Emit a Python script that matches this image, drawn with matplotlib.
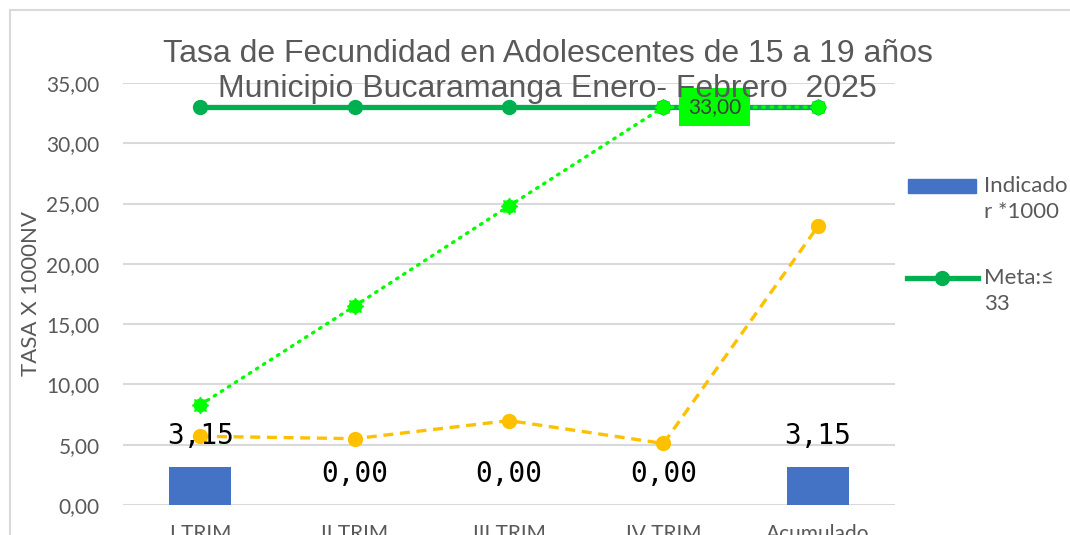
import matplotlib
matplotlib.use('Agg')
import matplotlib.pyplot as plt
from matplotlib.patches import Rectangle
from matplotlib.lines import Line2D

# ── Datos ─────────────────────────────────────────────────────────────────────
categorias = ['I TRIM', 'II TRIM', 'III TRIM', 'IV TRIM', 'Acumulado']
indicador = [3.15, 0.00, 0.00, 0.00, 3.15]
meta = [33, 33, 33, 33, 33]
meta_acum = [8.3, 16.5, 24.8, 33.0, 33.0]
tendencia = [5.7, 5.5, 7.0, 5.1, 23.1]
yticks = [0, 5, 10, 15, 20, 25, 30, 35]
titulo = ['Tasa de Fecundidad en Adolescentes de 15 a 19 años',
          'Municipio Bucaramanga Enero- Febrero  2025']

GRIS = '#595959'
AZUL = '#4472C4'
VERDE = '#00B050'
LIMA = '#00FF00'
NARANJA = '#FFC000'
FUENTE = ['Lato', 'DejaVu Sans']

plt.rcParams['font.family'] = FUENTE

W, H = 1070, 535
fig = plt.figure(figsize=(W / 100, H / 100), dpi=100)
ax = fig.add_axes([0.115, 0.0561, 0.7215, 0.7888])

x = list(range(len(categorias)))

ax.bar(x, indicador, width=0.4, color=AZUL, zorder=2)
ax.plot(x, meta, color=VERDE, lw=3.8, marker='o', ms=10, zorder=3)
ax.plot(x, tendencia, color=NARANJA, lw=2.4, ls=(0, (3, 2)), marker='o', ms=10, zorder=4)
ax.plot(x, meta_acum, color=LIMA, lw=2.4, ls=(0, (0.5, 2)), dash_capstyle='round',
        marker='o', ms=9, zorder=5)
ax.plot(x, meta_acum, ls='none', color=LIMA, marker=(8, 1, 0), ms=12, zorder=5)

for xi, v in zip(x, indicador):
    ax.annotate(f'{v:.2f}'.replace('.', ','), (xi, v), xytext=(0, 22),
                textcoords='offset points', ha='center', va='center',
                fontsize=20, family='DejaVu Sans Mono', color='black', zorder=6)

ax.annotate(f'{meta_acum[3]:.2f}'.replace('.', ','), (x[3], meta_acum[3]),
            xytext=(37, 0), textcoords='offset points', ha='center', va='center',
            fontsize=15, color='#404040', zorder=6,
            bbox=dict(boxstyle='square,pad=0.42', fc=LIMA, ec='none'))

ax.set_xlim(-0.5, 4.5)
ax.set_ylim(0, 35)
ax.set_yticks(yticks)
ax.set_yticklabels([f'{t:.2f}'.replace('.', ',') for t in yticks])
ax.set_xticks(x)
ax.set_xticklabels(categorias)
ax.tick_params(axis='both', length=0, labelsize=15, labelcolor=GRIS)
ax.tick_params(axis='y', pad=17)
ax.tick_params(axis='x', pad=14)
ax.grid(axis='y', color='#D9D9D9', lw=1.5, zorder=0)
ax.set_axisbelow(True)
for s in ax.spines.values():
    s.set_visible(False)
ax.set_ylabel('TASA X 1000NV', fontsize=16, color=GRIS, labelpad=4)

# Título en dos líneas
for linea, yb in zip(titulo, [62, 97]):
    fig.text(0.512, 1 - yb / H, linea, ha='center', va='baseline', fontsize=23,
             color=GRIS, family='Liberation Sans')

# Leyenda
fig.add_artist(Rectangle((908 / W, 1 - 193 / H), 68 / W, 14 / H,
                         transform=fig.transFigure, color=AZUL))
fig.add_artist(Line2D([907 / W, 978 / W], [1 - 278 / H] * 2, color=VERDE,
                      lw=3.8, transform=fig.transFigure))
fig.add_artist(Line2D([942 / W], [1 - 278 / H], color=VERDE, marker='o', ms=10,
                      transform=fig.transFigure))
fig.text(984 / W, 1 - 199 / H, 'Indicado\nr *1000', ha='left', va='center',
         fontsize=16, color=GRIS, linespacing=1.4)
fig.text(984 / W, 1 - 291 / H, 'Meta:≤\n33', ha='left', va='center',
         fontsize=16, color=GRIS, linespacing=1.4)

# Marco del gráfico
fig.add_artist(Rectangle((10 / W, -0.1), 1.2, 1.1 - 10 / H, transform=fig.transFigure,
                         fill=False, ec='#D9D9D9', lw=1.5))

fig.savefig('out.png', dpi=100)
